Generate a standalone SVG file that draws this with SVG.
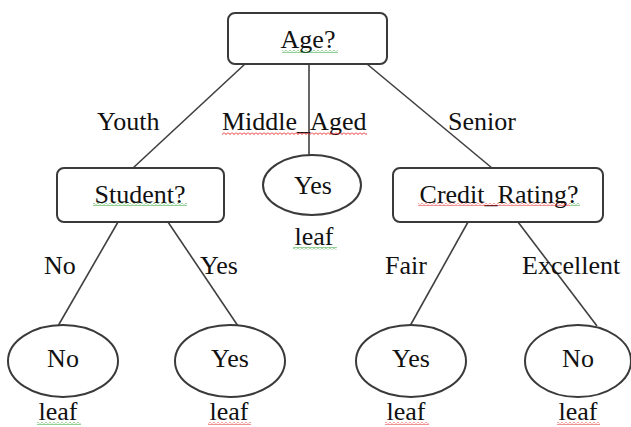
<svg xmlns="http://www.w3.org/2000/svg" width="631" height="427" viewBox="0 0 631 427">
<defs>
<style>
.box{fill:#fff;stroke:#3a3a3a;stroke-width:2}
.ell{fill:#fff;stroke:#3a3a3a;stroke-width:2}
.t{font-family:"Liberation Serif","Times New Roman",serif;font-size:26px;fill:#111}
.m{text-anchor:middle}
.edge{stroke:#404040;stroke-width:1.6;fill:none}
</style>
<pattern id="sqR" width="4" height="3" patternUnits="userSpaceOnUse">
<polyline points="0,0.5 2,2.5 4,0.5" fill="none" stroke="#e8262a" stroke-width="1"/>
</pattern>
<pattern id="sqG" width="4" height="3" patternUnits="userSpaceOnUse">
<polyline points="0,0.5 2,2.5 4,0.5" fill="none" stroke="#2ea02e" stroke-width="1"/>
</pattern>
</defs>
<rect width="631" height="427" fill="#fff"/>
<g id="connectors">
<line class="edge" x1="245" y1="64" x2="133" y2="168"/>
<line class="edge" x1="309" y1="64" x2="309" y2="155"/>
<line class="edge" x1="367" y1="64" x2="492" y2="168"/>
<line class="edge" x1="118" y1="222" x2="58" y2="326"/>
<line class="edge" x1="168" y1="222" x2="238" y2="326"/>
<line class="edge" x1="468" y1="222" x2="410" y2="326"/>
<line class="edge" x1="518" y1="222" x2="597" y2="326"/>
</g>
<g id="edge-labels">
<text class="t" x="97" y="130">Youth</text>
<text class="t" x="222" y="130">Middle_Aged</text>
<rect x="222" y="132" width="145" height="3" fill="url(#sqR)"/>
<text class="t" x="448" y="130">Senior</text>
<text class="t" x="44" y="274">No</text>
<text class="t" x="200" y="274">Yes</text>
<text class="t" x="385" y="274">Fair</text>
<text class="t" x="522" y="274">Excellent</text>
</g>
<g id="age">
<rect class="box" x="228" y="13" width="159" height="51" rx="7"/>
<text class="t m" x="308" y="48">Age?</text>
<rect x="282" y="50" width="56" height="3" fill="url(#sqG)"/>
</g>
<g id="student">
<rect class="box" x="57" y="168" width="167" height="54" rx="7"/>
<text class="t m" x="140" y="203">Student?</text>
<rect x="93" y="203" width="94" height="3" fill="url(#sqG)"/>
</g>
<g id="credit">
<rect class="box" x="393" y="168" width="210" height="54" rx="7"/>
<text class="t m" x="499" y="203">Credit_Rating?</text>
<rect x="418" y="203" width="152" height="3" fill="url(#sqR)"/>
<rect x="570" y="203" width="10" height="3" fill="url(#sqG)"/>
</g>
<g id="middle-yes">
<ellipse class="ell" cx="312" cy="185" rx="49" ry="30"/>
<text class="t m" x="313" y="194">Yes</text>
<text class="t m" x="314" y="245">leaf</text>
<rect x="293" y="247" width="44" height="3" fill="url(#sqG)"/>
</g>
<g id="student-no">
<ellipse class="ell" cx="63" cy="361" rx="55" ry="36"/>
<text class="t m" x="63" y="367">No</text>
<text class="t m" x="58" y="420">leaf</text>
<rect x="37" y="422" width="44" height="3" fill="url(#sqG)"/>
</g>
<g id="student-yes">
<ellipse class="ell" cx="230" cy="361" rx="55" ry="36"/>
<text class="t m" x="230" y="367">Yes</text>
<text class="t m" x="229" y="420">leaf</text>
<rect x="208" y="422" width="43" height="3" fill="url(#sqR)"/>
</g>
<g id="fair-yes">
<ellipse class="ell" cx="411" cy="361" rx="55" ry="36"/>
<text class="t m" x="411" y="367">Yes</text>
<text class="t m" x="406" y="420">leaf</text>
<rect x="385" y="422" width="44" height="3" fill="url(#sqR)"/>
</g>
<g id="excellent-no">
<ellipse class="ell" cx="578" cy="361" rx="53" ry="36"/>
<text class="t m" x="578" y="367">No</text>
<text class="t m" x="578" y="420">leaf</text>
<rect x="557" y="422" width="43" height="3" fill="url(#sqR)"/>
</g>
</svg>
